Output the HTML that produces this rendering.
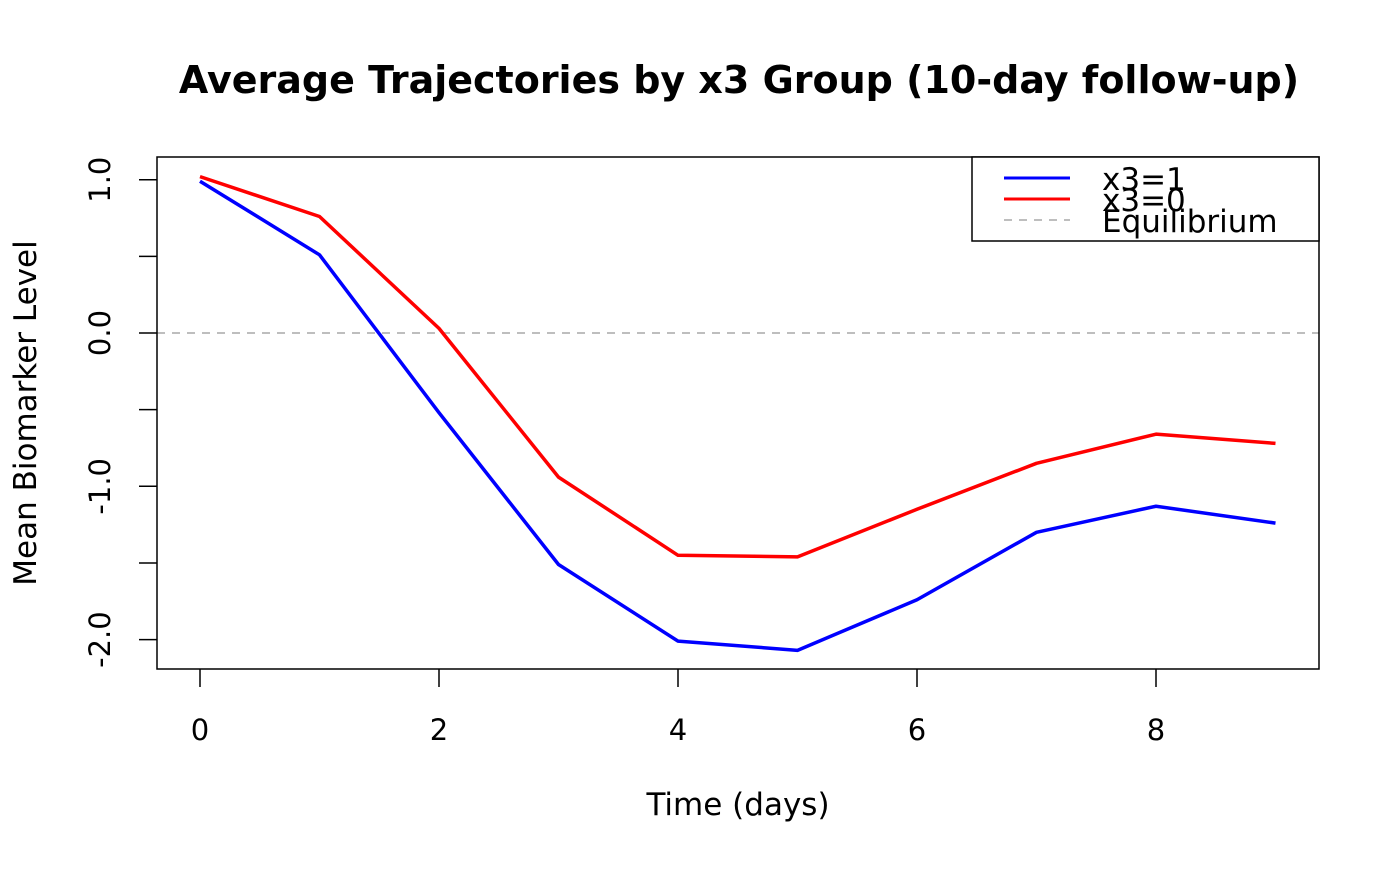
<!DOCTYPE html>
<html><head><meta charset="utf-8"><style>
body{margin:0;background:#fff}
svg text{font-family:"DejaVu Sans","Liberation Sans",sans-serif}
</style></head><body>
<svg id="chart" width="1400" height="866" viewBox="0 0 1400 866" xmlns="http://www.w3.org/2000/svg">
<rect width="1400" height="866" fill="#fff"/>
<text x="739" y="93" text-anchor="middle" font-size="38" font-weight="bold">Average Trajectories by x3 Group (10-day follow-up)</text>
<text x="738" y="815" text-anchor="middle" font-size="31">Time (days)</text>
<text transform="translate(36,413) rotate(-90)" text-anchor="middle" font-size="31">Mean Biomarker Level</text>
<g id="plot"></g>
<rect x="157" y="157" width="1162" height="512" fill="none" stroke="#000" stroke-width="1.5"/>
<g>
<rect x="972" y="157" width="347" height="84" fill="#fff" stroke="#000" stroke-width="1.5"/>
<line x1="1004" y1="178" x2="1070" y2="178" stroke="#0000ff" stroke-width="3"/>
<text x="1102" y="190" font-size="31">x3=1</text>
<line x1="1004" y1="199" x2="1070" y2="199" stroke="#ff0000" stroke-width="3"/>
<text x="1102" y="211" font-size="31">x3=0</text>
<line x1="1004" y1="220" x2="1070" y2="220" stroke="#bebebe" stroke-width="2" stroke-dasharray="8,7"/>
<text x="1102" y="232" font-size="31">Equilibrium</text>
</g>
</svg>
<script>
const days=[0,1,2,3,4,5,6,7,8,9];
const blueVals=[0.99,0.51,-0.52,-1.51,-2.01,-2.07,-1.74,-1.30,-1.13,-1.24];
const redVals=[1.02,0.76,0.03,-0.94,-1.45,-1.46,-1.15,-0.85,-0.66,-0.72];
const xTicks=[0,2,4,6,8];
const yTicks=[1.0,0.5,0,-0.5,-1.0,-1.5,-2.0];
const yLabels=["1.0","","0.0","","-1.0","","-2.0"];
const NS="http://www.w3.org/2000/svg";
const xs=v=>200+v*119.5;
const ys=v=>333-v*153.3;
const g=document.getElementById('plot');
function mk(t,a){const e=document.createElementNS(NS,t);for(const k in a)e.setAttribute(k,a[k]);g.appendChild(e);return e;}
let e=mk('line',{x1:157,x2:1319,y1:ys(0),y2:ys(0),stroke:'#bebebe','stroke-width':2,'stroke-dasharray':'8,7'});


xTicks.forEach(t=>{
 let l=mk('line',{x1:xs(t),x2:xs(t),y1:669,y2:687,stroke:'#000','stroke-width':1.5});
 
 
 let tx=mk('text',{x:xs(t),y:740,'text-anchor':'middle','font-size':29});tx.textContent=t;
 
 
});
yTicks.forEach((t,i)=>{
 let l=mk('line',{x1:139,x2:157,y1:ys(t),y2:ys(t),stroke:'#000','stroke-width':1.5});
 
 
 if(yLabels[i]){let tx=mk('text',{transform:`translate(110,${ys(t)}) rotate(-90)`,'text-anchor':'middle','font-size':29});tx.textContent=yLabels[i];
 
 }
});
function series(vals,color,name){
 let p=mk('polyline',{points:days.map((d,i)=>xs(d)+','+ys(vals[i])).join(' '),fill:'none',stroke:color,'stroke-width':3.5,'stroke-linejoin':'round'});
 
 
}
series(redVals,'#ff0000','line-x3-0');
series(blueVals,'#0000ff','line-x3-1');
</script>
</body></html>
